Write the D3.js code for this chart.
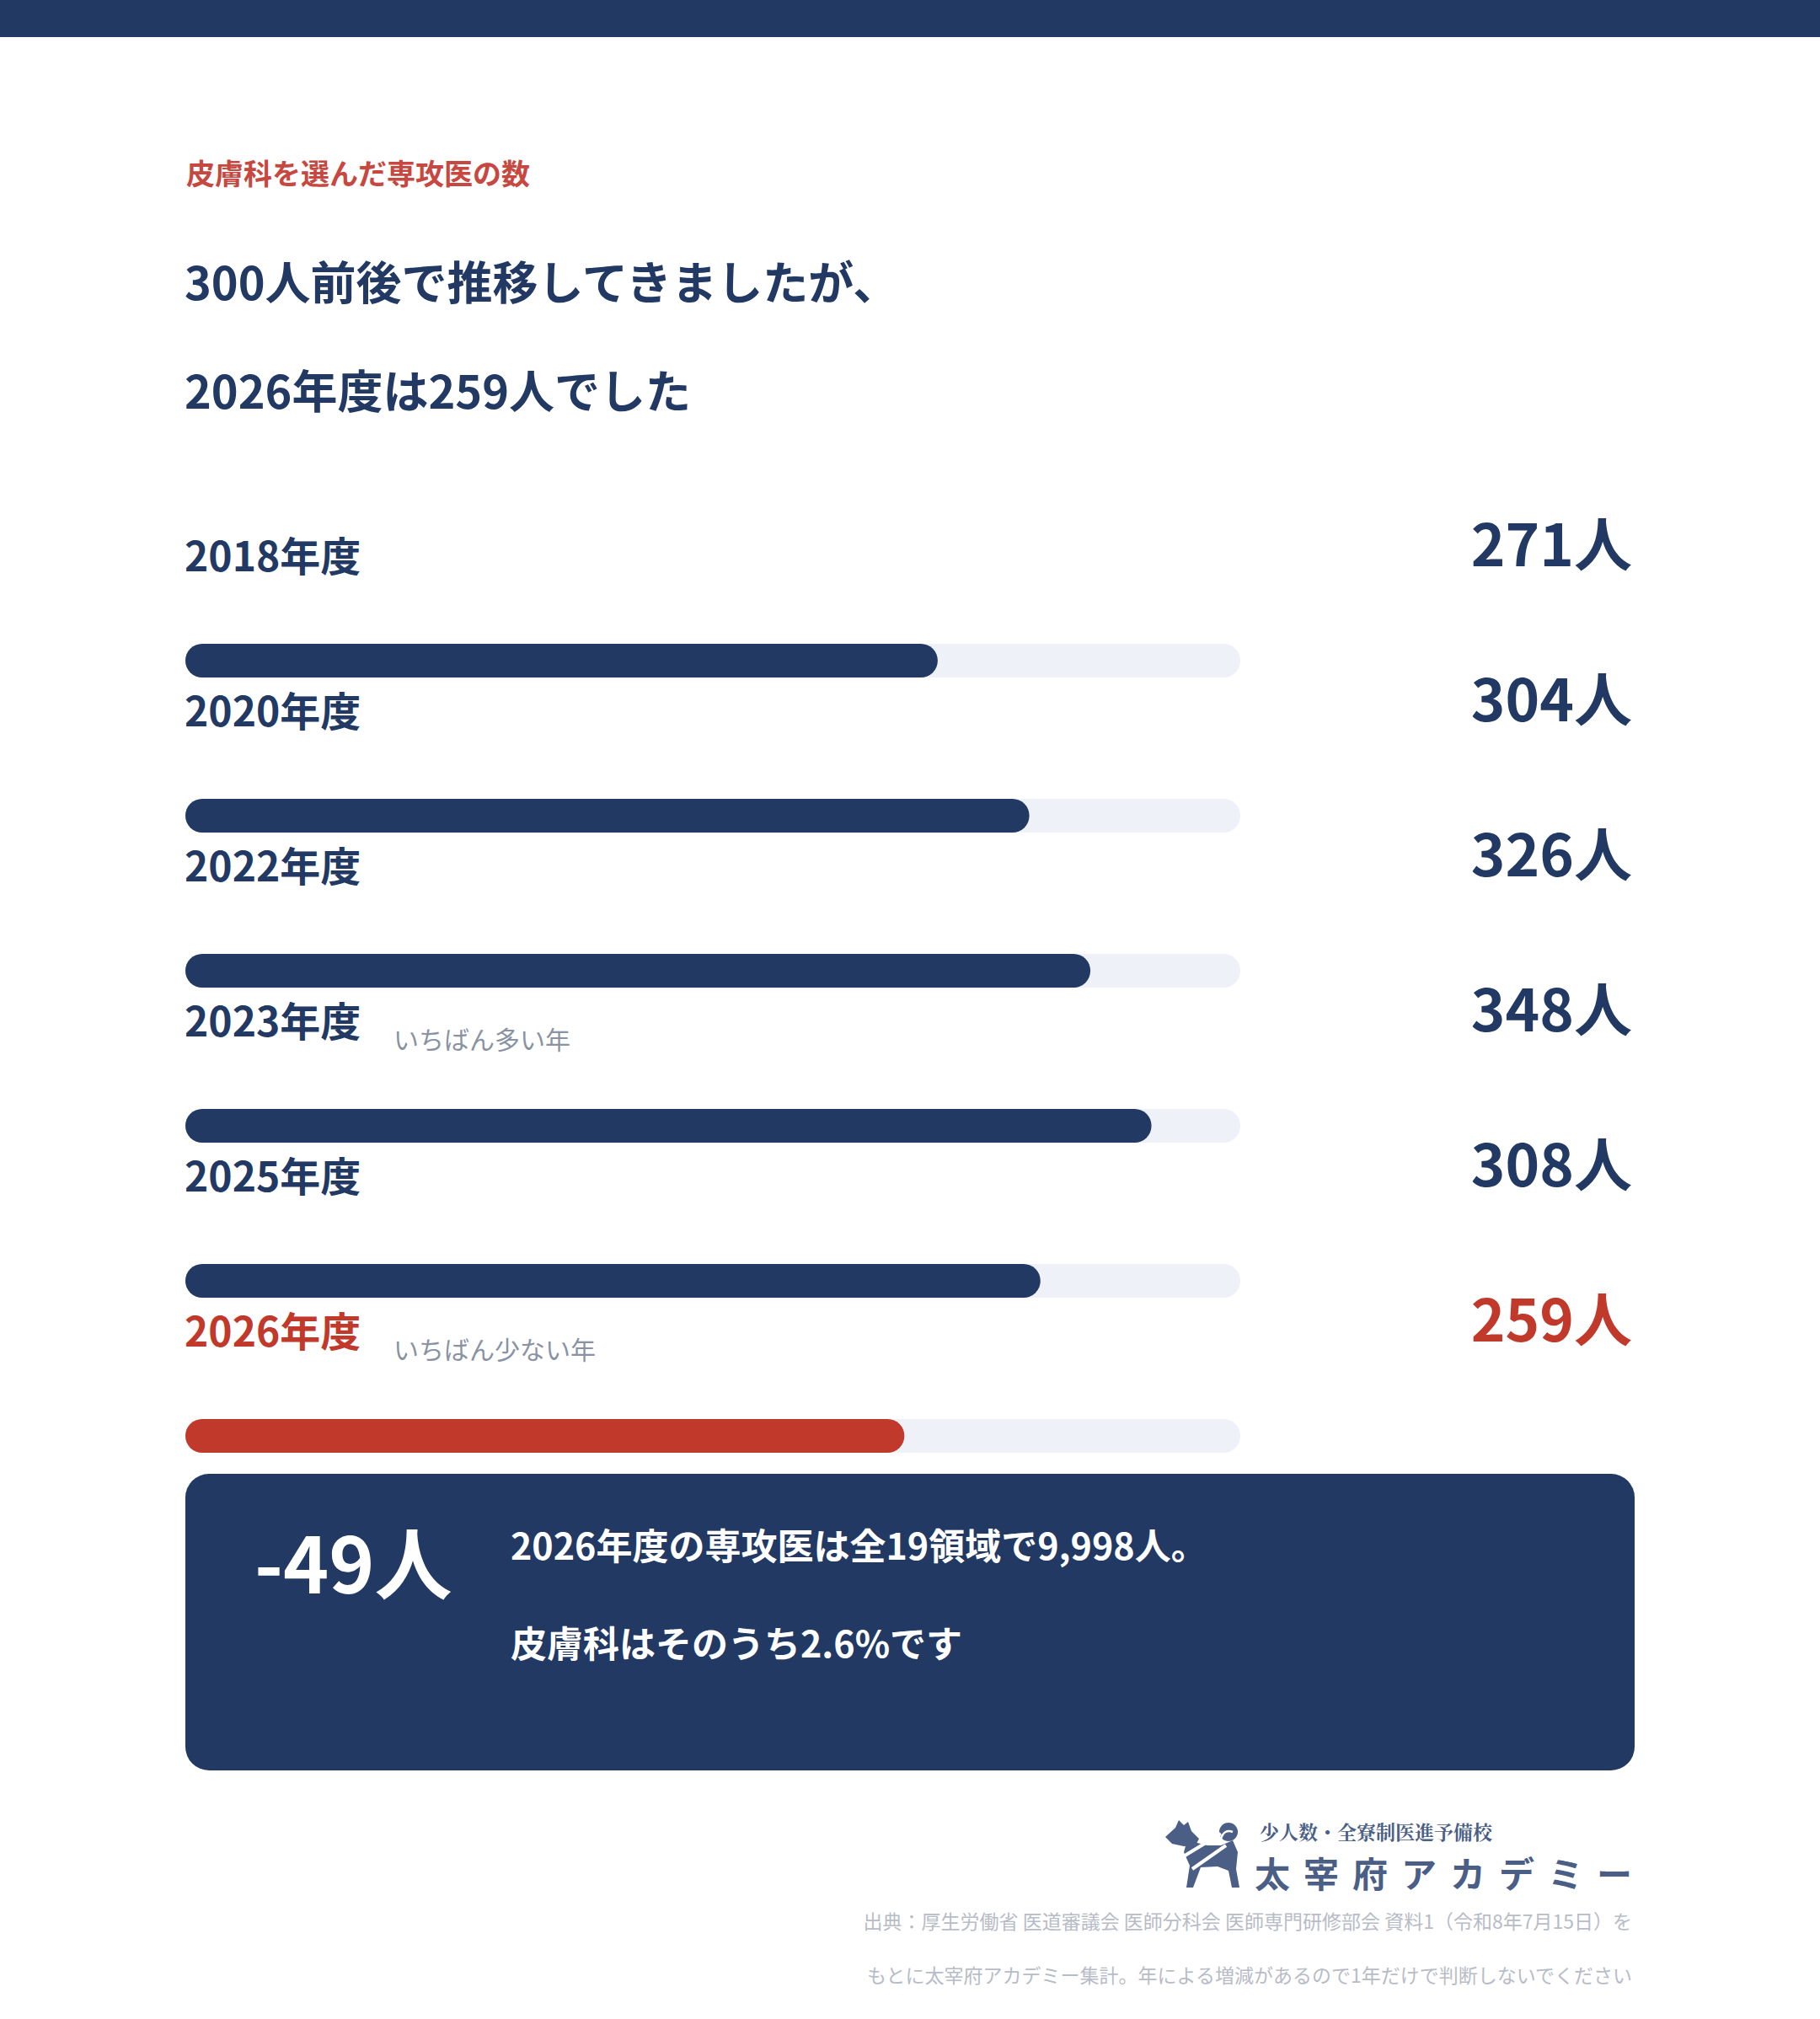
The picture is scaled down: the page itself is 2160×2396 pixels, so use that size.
<!DOCTYPE html>
<html>
<head>
<meta charset="utf-8">
<script src="https://cdn.jsdelivr.net/npm/d3@7"></script>
<style>
  html, body { margin: 0; padding: 0; background: #ffffff; }
  svg { display: block; font-family: "Noto Sans CJK JP", "Noto Sans", sans-serif; }
</style>
</head>
<body>
<div id="chart"></div>
<script>
// データ
const years = ["2018年度", "2020年度", "2022年度", "2023年度", "2025年度", "2026年度"]
const counts = [271, 304, 326, 348, 308, 259]
const notes = ["", "", "", "いちばん多い年", "", "いちばん少ない年"]
const highlightYear = "2026年度"
const domainMax = 380

const subtitle = "皮膚科を選んだ専攻医の数"
const titleLines = ["300人前後で推移してきましたが、", "2026年度は259人でした"]
const boxLines = ["2026年度の専攻医は全19領域で9,998人。", "皮膚科はそのうち2.6%です"]
const sourceLines = [
    "出典：厚生労働省 医道審議会 医師分科会 医師専門研修部会 資料1（令和8年7月15日）を",
    "もとに太宰府アカデミー集計。年による増減があるので1年だけで判断しないでください"
]
const logoLines = ["少人数・全寮制医進予備校", "太宰府アカデミー"]

const W = 2160, H = 2396
const navy = "#213963"
const red = "#c0392b"

const svg = d3.select("#chart").append("svg")
    .attr("width", W)
    .attr("height", H)
    .attr("viewBox", `0 0 ${W} ${H}`)

svg.append("rect").attr("width", W).attr("height", H).attr("fill", "#ffffff")

// 上の帯
svg.append("rect").attr("x", 0).attr("y", 0).attr("width", W).attr("height", 44).attr("fill", navy)

// 見出し
svg.append("text")
    .attr("x", 221).attr("y", 219)
    .attr("font-size", 34).attr("font-weight", 700)
    .attr("fill", "#c64840")
    .text(subtitle)

svg.selectAll("text.title")
    .data(titleLines)
    .join("text")
    .attr("class", "title")
    .attr("x", 219)
    .attr("y", (d, i) => 356 + i * 129)
    .attr("font-size", 54).attr("font-weight", 700)
    .attr("fill", navy)
    .text(d => d)

// スケール
const x = d3.scaleLinear().domain([0, domainMax]).range([220, 1472])
const y = d3.scaleBand().domain(years).range([590, 590 + years.length * 184]).paddingInner(0)

const rows = years.map((yr, i) => ({ year: yr, count: counts[i], note: notes[i] }))
const colorOf = d => d.year === highlightYear ? red : navy

const g = svg.append("g")

const row = g.selectAll("g.row")
    .data(rows)
    .join("g")
    .attr("class", "row")
    .attr("transform", d => `translate(0,${y(d.year)})`)

row.append("text")
    .attr("x", 219).attr("y", 88)
    .attr("font-size", 48).attr("font-weight", 700)
    .attr("fill", colorOf)
    .text(d => d.year)

row.filter(d => d.note)
    .append("text")
    .attr("x", 467).attr("y", 103)
    .attr("font-size", 30).attr("font-weight", 400)
    .attr("fill", "#8a93a3")
    .text(d => d.note)

row.append("text")
    .attr("x", 1937).attr("y", 82)
    .attr("text-anchor", "end")
    .attr("font-size", 69).attr("font-weight", 700)
    .attr("fill", colorOf)
    .text(d => d.count + "人")

// トラック
row.append("rect")
    .attr("x", x(0)).attr("y", 174)
    .attr("width", x(domainMax) - x(0)).attr("height", 40)
    .attr("rx", 20)
    .attr("fill", "#eef1f8")

// バー
row.append("rect")
    .attr("x", x(0)).attr("y", 174)
    .attr("width", d => x(d.count) - x(0)).attr("height", 40)
    .attr("rx", 20)
    .attr("fill", colorOf)

// まとめボックス
const diff = counts[counts.length - 1] - counts[counts.length - 2]
const box = svg.append("g")
box.append("rect")
    .attr("x", 220).attr("y", 1749)
    .attr("width", 1720).attr("height", 352)
    .attr("rx", 28)
    .attr("fill", navy)

box.append("text")
    .attr("x", 302).attr("y", 1891)
    .attr("font-size", 92).attr("font-weight", 700)
    .attr("fill", "#ffffff")
    .text((diff < 0 ? "-" : "+") + Math.abs(diff) + "人")

box.selectAll("text.line")
    .data(boxLines)
    .join("text")
    .attr("class", "line")
    .attr("x", 606)
    .attr("y", (d, i) => 1851 + i * 116)
    .attr("font-size", 43).attr("font-weight", 700)
    .attr("fill", "#ffffff")
    .text(d => d)

// ロゴ
const logoColor = "#4b5f86"
const logo = svg.append("g").attr("transform", "translate(1383,2160)")
logo.append("path")
    .attr("d", "M0,20 L12,9 L16,0 L22,6 L27,2 L31,13 L40,22 L36,30 L22,31 L8,28 Z")
    .attr("fill", logoColor)
logo.append("path")
    .attr("d", "M26,24 L50,30 L66,30 L80,24 L86,38 L84,58 L88,80 L79,80 L75,60 L62,55 L42,56 L33,80 L25,80 L29,54 L22,38 Z")
    .attr("fill", logoColor)
logo.append("circle").attr("cx", 75).attr("cy", 14).attr("r", 11).attr("fill", logoColor)
logo.append("path")
    .attr("d", "M66,22 Q70,10 80,14")
    .attr("fill", "none").attr("stroke", "#ffffff").attr("stroke-width", 2.5)
logo.append("line")
    .attr("x1", 20).attr("y1", 44).attr("x2", 66).attr("y2", 16)
    .attr("stroke", "#ffffff").attr("stroke-width", 4)
logo.append("line")
    .attr("x1", 32).attr("y1", 58).attr("x2", 72).attr("y2", 30)
    .attr("stroke", "#ffffff").attr("stroke-width", 4)

svg.append("text")
    .attr("x", 1495).attr("y", 2183)
    .attr("font-size", 23).attr("font-weight", 700)
    .attr("fill", logoColor)
    .attr("font-family", "'Noto Serif CJK JP', 'Noto Sans CJK JP', serif")
    .text(logoLines[0])

svg.append("text")
    .attr("x", 1489).attr("y", 2240)
    .attr("font-size", 42).attr("font-weight", 700)
    .attr("letter-spacing", 16)
    .attr("fill", logoColor)
    .text(logoLines[1])

// 出典
svg.selectAll("text.source")
    .data(sourceLines)
    .join("text")
    .attr("class", "source")
    .attr("x", 1937)
    .attr("y", (d, i) => 2289 + i * 64)
    .attr("text-anchor", "end")
    .attr("font-size", 23).attr("font-weight", 400)
    .attr("fill", "#b7bcc7")
    .text(d => d)
</script>
</body>
</html>
